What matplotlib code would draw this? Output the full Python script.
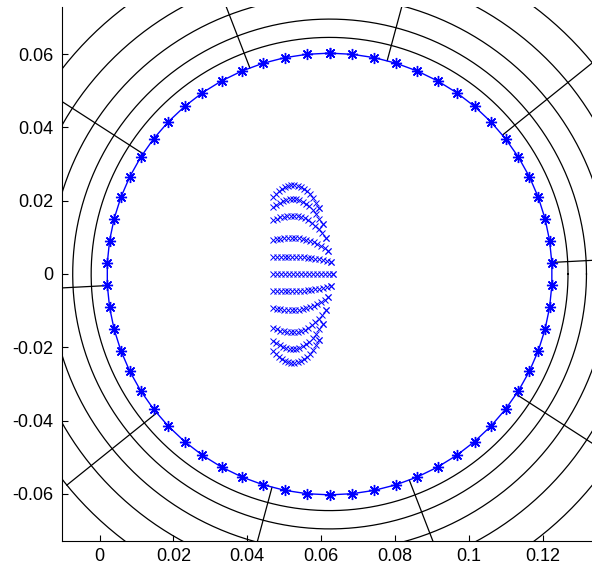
import numpy as np
import matplotlib
matplotlib.use("Agg")
import matplotlib.pyplot as plt

plt.rcParams["font.family"] = ["Liberation Sans", "DejaVu Sans"]
plt.rcParams["axes.unicode_minus"] = False

# pipe cross-section geometry
center_x = 0.0623
center_y = 0.0
inner_radius = 0.0603
n_inner_nodes = 62
ring_radii = [0.0646, 0.0696, 0.0758, 0.0831, 0.0916]
spoke_angles = [3, 39, 75, 111, 147, 183, 219, 255, 291, 327]

# inner blob: rows of "x" points (start on flat left edge, end on curved right edge)
blob_x_left = 0.0470
row_y_start = [0.0210, 0.0183, 0.0147, 0.0093, 0.0046, 0.0,
               -0.0046, -0.0093, -0.0147, -0.0183, -0.0210]
row_y_end = [0.0180, 0.0136, 0.0098, 0.0064, 0.0032, 0.0,
             -0.0032, -0.0064, -0.0098, -0.0136, -0.0180]
row_x_end = [0.0594, 0.0604, 0.0612, 0.0620, 0.0626, 0.0631,
             0.0626, 0.0620, 0.0612, 0.0604, 0.0594]
row_bulge = [0.0036, 0.0026, 0.0016, 0.0007, 0.0002, 0.0,
             -0.0002, -0.0007, -0.0016, -0.0026, -0.0036]
points_per_row = 16

xticks = [0, 0.02, 0.04, 0.06, 0.08, 0.1, 0.12]
xtick_labels = ["0", "0.02", "0.04", "0.06", "0.08", "0.1", "0.12"]
yticks = [-0.06, -0.04, -0.02, 0, 0.02, 0.04, 0.06]
ytick_labels = ["-0.06", "-0.04", "-0.02", "0", "0.02", "0.04", "0.06"]


def main():
    fig = plt.figure(figsize=(5.92, 5.69), dpi=100)
    ax = fig.add_axes([62 / 592, 28 / 569, 530 / 592, 534 / 569])

    # black rings
    t = np.linspace(0, 2 * np.pi, 400)
    for r in ring_radii:
        ax.plot(center_x + r * np.cos(t), center_y + r * np.sin(t), color="black", lw=0.9)

    # black spokes
    for a in spoke_angles:
        th = np.deg2rad(a)
        rr = np.array([inner_radius, ring_radii[-1]])
        ax.plot(center_x + rr * np.cos(th), center_y + rr * np.sin(th), color="black", lw=0.9)

    # blue inner ring with asterisk markers
    th = np.deg2rad(90 + np.arange(n_inner_nodes + 1) * 360 / n_inner_nodes)
    ax.plot(center_x + inner_radius * np.cos(th), center_y + inner_radius * np.sin(th),
            color="blue", lw=1.0, marker=(8, 2, 0), markersize=8, markeredgewidth=1.0)

    # blob of x markers
    s = np.linspace(0, 1, points_per_row)
    for y0, y1, x1, b in zip(row_y_start, row_y_end, row_x_end, row_bulge):
        xs = blob_x_left + s * (x1 - blob_x_left)
        ys = y0 + (y1 - y0) * s ** 3 + 4 * b * s * (1 - s)
        ax.plot(xs, ys, linestyle="none", marker="x", color="blue",
                markersize=4.8, markeredgewidth=0.7)
    ax.plot(row_x_end, row_y_end, linestyle="none", marker="x", color="blue",
            markersize=4.8, markeredgewidth=0.7)

    ax.set_xlim(-0.0102, 0.1334)
    ax.set_ylim(-0.0729, 0.0729)
    ax.set_xticks(xticks)
    ax.set_xticklabels(xtick_labels)
    ax.set_yticks(yticks)
    ax.set_yticklabels(ytick_labels)
    ax.tick_params(direction="in", length=4, width=0.8, labelsize=13)
    ax.tick_params(axis="y", pad=6)
    ax.tick_params(axis="x", pad=5)
    ax.spines["top"].set_visible(False)
    ax.spines["right"].set_visible(False)

    fig.savefig("out.png", dpi=100)


if __name__ == "__main__":
    main()
